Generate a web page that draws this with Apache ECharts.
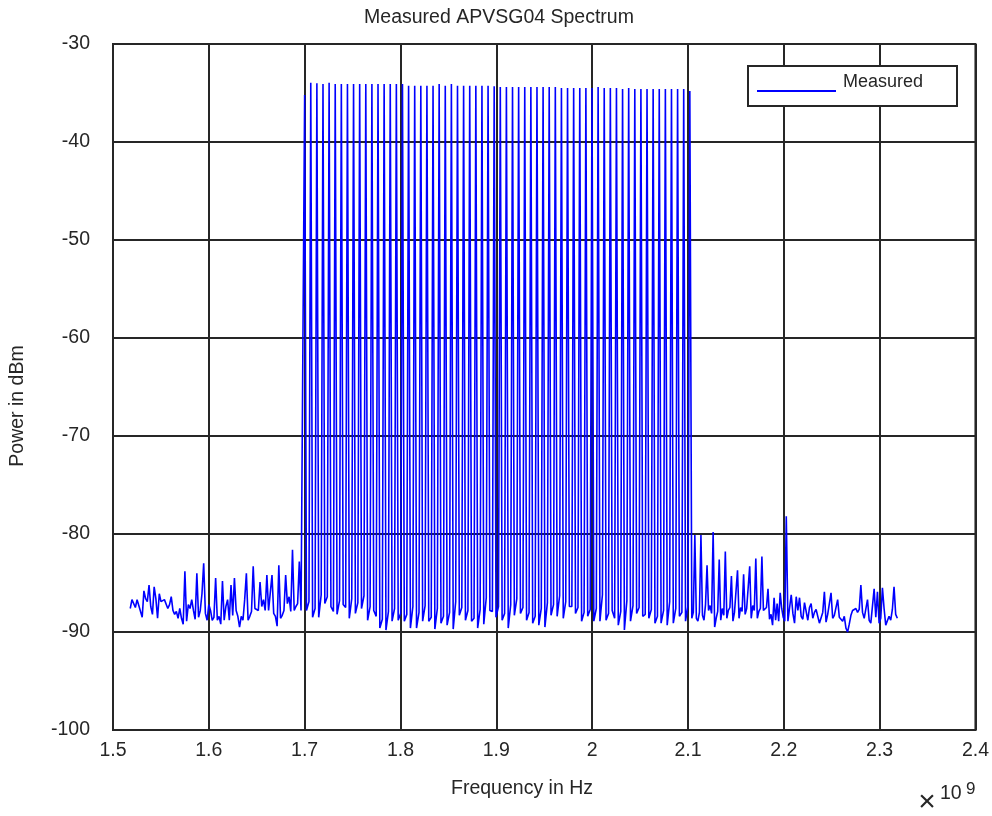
<!DOCTYPE html>
<html>
<head>
<meta charset="utf-8">
<script src="https://cdn.jsdelivr.net/npm/echarts@6/dist/echarts.min.js"></script>
<style>html,body{margin:0;padding:0;background:#fff}#c{width:992px;height:816px}</style>
</head>
<body>
<div id="c"></div>
<script>
// ---- data (frequency in GHz, power in dBm) ----
const xTickLabels = ['1.5','1.6','1.7','1.8','1.9','2','2.1','2.2','2.3','2.4'];
const yTickLabels = ['-100','-90','-80','-70','-60','-50','-40','-30'];

// noise floor below the comb (1.518 .. 1.698 GHz)
const preStart = 1.518, preEnd = 1.698;
const preNoise = [-87.6,-86.7,-86.9,-87.5,-86.7,-87.3,-87.5,-88.5,-85.8,-86.6,-86.9,-85.2,-87.4,-88.2,-85.4,-86.6,-88.6,-86.1,-86.9,-87.1,
  -86.7,-86.9,-87.6,-87.2,-86.4,-87.8,-88.2,-87.9,-88.6,-87.6,-88.6,-89.2,-83.8,-88.9,-87.2,-87.6,-86.7,-87.8,-88.7,-84.0,
  -88.5,-87.8,-86.1,-83.0,-88.1,-88.8,-87.2,-87.8,-88.8,-88.5,-84.5,-88.8,-88.4,-89.2,-84.8,-88.8,-87.4,-86.7,-88.8,-85.2,
  -88.3,-84.5,-87.8,-88.4,-89.5,-88.4,-88.8,-86.7,-84.0,-88.8,-88.4,-87.9,-83.3,-87.6,-87.8,-87.8,-84.9,-87.4,-86.7,-87.8,
  -84.2,-87.8,-87.9,-84.2,-88.1,-88.4,-89.4,-83.2,-88.6,-88.3,-87.8,-84.2,-87.1,-86.4,-87.9,-81.6,-87.8,-87.4,-87.1,-82.8,
  -87.8,-87.9];

// comb tones (1.700 GHz upward, one tone every 6.38 MHz)
const toneStart = 1.700, toneStep = 0.00638;
const peaks = [-35.2,-33.95,-34.0,-34.08,-33.95,-34.08,-34.08,-34.08,-34.08,-34.08,-34.08,-34.08,-34.08,-34.08,-34.08,-34.08,
  -34.08,-34.25,-34.25,-34.25,-34.25,-34.25,-34.08,-34.25,-34.08,-34.25,-34.25,-34.25,-34.25,-34.25,-34.25,-34.3,
  -34.39,-34.39,-34.39,-34.39,-34.39,-34.39,-34.39,-34.39,-34.39,-34.39,-34.49,-34.49,-34.49,-34.49,-34.49,-34.49,
  -34.39,-34.49,-34.49,-34.49,-34.6,-34.49,-34.6,-34.6,-34.6,-34.6,-34.6,-34.6,-34.6,-34.6,-34.6,-34.8];
// floor between neighbouring tones: first and second sample of each gap
const gapOffA = 0.0019, gapOffB = 0.0045;
const gapLow = [-87.8,-88.5,-88.5,-87.1,-87.4,-88.2,-87.2,-88.6,-88.1,-87.6,-88.8,-87.8,-89.6,-89.8,-88.9,-88.8,
  -88.9,-89.6,-89.6,-88.9,-88.9,-89.7,-89.1,-89.3,-89.7,-88.3,-88.8,-88.9,-89.6,-89.2,-87.8,-88.5,
  -88.8,-89.6,-88.3,-88.1,-88.8,-89.1,-89.3,-89.5,-88.3,-88.4,-88.6,-87.4,-88.1,-88.9,-88.4,-88.9,
  -88.9,-88.8,-87.8,-89.3,-89.8,-88.9,-88.1,-88.4,-88.6,-89.1,-89.1,-89.3,-89.1,-88.4,-88.9];
const gapHigh = [-86.9,-87.6,-86.2,-86.4,-87.9,-86.8,-87.5,-86.6,-87.0,-86.3,-87.4,-88.4,-88.7,-87.9,-87.6,-88.1,
  -88.2,-87.4,-88.0,-87.3,-88.5,-87.6,-88.4,-88.0,-86.9,-87.5,-87.8,-88.6,-87.7,-86.5,-87.9,-87.4,
  -88.1,-87.2,-86.6,-87.5,-88.0,-88.4,-87.6,-87.0,-87.2,-86.3,-86.9,-87.4,-87.5,-88.0,-87.7,-87.6,
  -86.2,-88.1,-88.6,-87.9,-86.8,-87.3,-87.5,-88.2,-87.7,-88.4,-87.8,-86.9,-87.6,-88.0,-87.3];

// noise floor above the comb, up to and including the 2.2 GHz spur (2.104 .. 2.2026 GHz)
const postAStart = 2.1040, postAEnd = 2.2026;
const postNoiseA = [-88.6,-88.0,-80.1,-88.6,-88.9,-88.0,-80.1,-88.3,-88.8,-87.2,-83.2,-87.8,-87.3,-88.1,-79.8,-89.5,
  -88.6,-87.9,-82.6,-88.8,-87.6,-88.3,-81.8,-88.6,-87.8,-87.5,-84.3,-88.9,-88.0,-87.9,-83.7,-88.6,
  -87.5,-87.9,-84.1,-88.2,-87.6,-87.8,-83.3,-88.6,-87.3,-87.8,-82.5,-88.6,-87.9,-87.6,-82.3,-87.8,
  -87.7,-87.5,-85.6,-88.7,-88.2,-89.3,-86.5,-88.8,-87.1,-88.9,-86.0,-87.6,-88.5,-88.9,-78.2];
// noise floor after the spur (2.2043 .. 2.3185 GHz)
const postBStart = 2.2043, postBEnd = 2.3185;
const postNoiseB = [-88.9,
  -88.8,-86.2,-88.1,-89.1,-86.4,-87.8,-86.5,-88.4,-88.7,-87.0,-86.9,-88.8,-87.5,-87.1,-88.6,-88.0,
  -87.7,-87.6,-89.1,-89.0,-88.0,-85.9,-89.0,-88.2,-88.4,-86.0,-88.6,-88.3,-88.2,-86.7,-88.5,-88.5,
  -88.9,-88.4,-89.6,-90.0,-89.2,-88.3,-87.8,-87.6,-87.6,-88.0,-87.7,-85.2,-88.0,-88.6,-88.8,-86.7,
  -88.8,-89.1,-88.9,-85.6,-88.5,-85.9,-89.1,-88.6,-85.5,-87.6,-89.3,-89.1,-88.4,-88.8,-87.7,-85.4,
  -88.2,-88.6];

// ---- assemble the trace ----
const trace = [];
function addSpan(values, f0, f1) {
  values.forEach((v, i) => trace.push([f0 + (f1 - f0) * i / (values.length - 1), v]));
}
addSpan(preNoise, preStart, preEnd);
peaks.forEach((v, k) => {
  const f = toneStart + toneStep * k;
  trace.push([f, v]);
  if (k < gapLow.length) {
    trace.push([f + gapOffA, gapLow[k]]);
    trace.push([f + gapOffB, gapHigh[k]]);
  }
});
addSpan(postNoiseA, postAStart, postAEnd);
addSpan(postNoiseB, postBStart, postBEnd);

const FONT = '"Liberation Sans", Arial, Helvetica, sans-serif';
const INK = '#262626';
const FS = 19.5;
const chart = echarts.init(document.getElementById('c'), null, {renderer: 'canvas'});
chart.setOption({
  animation: false,
  backgroundColor: '#ffffff',
  textStyle: {fontFamily: FONT},
  grid: {left: 113, right: 14, top: 44, bottom: 86, show: true, borderColor: INK, borderWidth: 2},
  xAxis: {
    type: 'value', min: 1.5, max: 2.4, interval: 0.1,
    axisLine: {show: true, onZero: false, lineStyle: {color: INK, width: 2}},
    axisTick: {show: false},
    splitLine: {show: true, lineStyle: {color: INK, width: 2}},
    axisLabel: {color: INK, fontSize: FS, fontFamily: FONT, margin: 11,
      formatter: v => xTickLabels[Math.round((v - 1.5) / 0.1)]}
  },
  yAxis: {
    type: 'value', min: -100, max: -30, interval: 10,
    axisLine: {show: true, onZero: false, lineStyle: {color: INK, width: 2}},
    axisTick: {show: false},
    splitLine: {show: true, lineStyle: {color: INK, width: 2}},
    axisLabel: {color: INK, fontSize: FS, fontFamily: FONT, margin: 23,
      formatter: v => yTickLabels[Math.round((v + 100) / 10)]}
  },
  legend: {
    show: true, left: 757, top: 73, orient: 'horizontal', z: 10,
    data: ['Measured'], icon: 'rect', itemWidth: 79, itemHeight: 2, itemGap: 10,
    padding: 0, borderWidth: 0, backgroundColor: 'transparent',
    formatter: n => '{a|' + n + '}',
    textStyle: {color: INK, fontSize: 18, fontFamily: FONT,
      rich: {a: {color: INK, fontSize: 18, fontFamily: FONT, lineHeight: 18, padding: [0, 0, 18, 2]}}}
  },
  graphic: [
    {type: 'rect', z: 5, shape: {x: 748, y: 66, width: 209, height: 40},
      style: {fill: '#ffffff', stroke: INK, lineWidth: 2}},
    {type: 'text', x: 499, y: 18, style: {text: 'Measured APVSG04 Spectrum', fill: INK, font: FS + 'px ' + FONT, align: 'center', verticalAlign: 'middle'}},
    {type: 'text', x: 522, y: 789, style: {text: 'Frequency in Hz', fill: INK, font: FS + 'px ' + FONT, align: 'center', verticalAlign: 'middle'}},
    {type: 'text', x: 18, y: 406, rotation: Math.PI / 2, style: {text: 'Power in dBm', fill: INK, font: FS + 'px ' + FONT, align: 'center', verticalAlign: 'middle'}},
    {type: 'text', x: 927, y: 803, style: {text: '×', fill: INK, font: '30px ' + FONT, align: 'center', verticalAlign: 'middle'}},
    {type: 'text', x: 940, y: 794, style: {text: '10', fill: INK, font: FS + 'px ' + FONT, align: 'left', verticalAlign: 'middle'}},
    {type: 'text', x: 966, y: 789, style: {text: '9', fill: INK, font: '17px ' + FONT, align: 'left', verticalAlign: 'middle'}}
  ],
  series: [{
    name: 'Measured', type: 'line', data: trace, showSymbol: false, symbol: 'none',
    lineStyle: {color: '#0000ff', width: 1.6}, itemStyle: {color: '#0000ff'},
    clip: true, silent: true
  }]
});
</script>
</body>
</html>
